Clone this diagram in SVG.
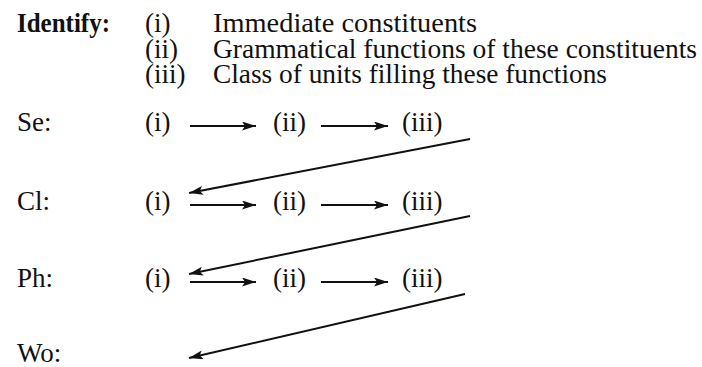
<svg xmlns="http://www.w3.org/2000/svg" width="702" height="367" viewBox="0 0 702 367">
<style>
text { font-family: "Liberation Serif", "Times New Roman", serif; font-size: 27px; fill: #111; }
.b { font-weight: bold; }
.ln { stroke: #111; stroke-width: 2; fill: none; }
.h { stroke-width: 1.8; }
</style>
<defs>
<marker id="ah" markerUnits="userSpaceOnUse" markerWidth="16" markerHeight="10" refX="14" refY="4.5" orient="auto">
<path d="M0,0 L14,4.5 L0,9 L3,4.5 z" fill="#111"/>
</marker>
</defs>
<rect width="702" height="367" fill="#fff"/>
<g id="header">
<text class="b" x="17" y="32" textLength="93" lengthAdjust="spacingAndGlyphs">Identify:</text>
<text x="145" y="32">(i)</text>
<text x="145" y="57.5">(ii)</text>
<text x="145" y="83">(iii)</text>
<text x="213" y="32" textLength="264" lengthAdjust="spacingAndGlyphs">Immediate constituents</text>
<text x="213" y="57.5" textLength="484" lengthAdjust="spacingAndGlyphs">Grammatical functions of these constituents</text>
<text x="213" y="83" textLength="394" lengthAdjust="spacingAndGlyphs">Class of units filling these functions</text>
</g>
<g id="Se">
<text x="17" y="131">Se:</text>
<text x="145" y="131">(i)</text>
<text x="273" y="131">(ii)</text>
<text x="402" y="131">(iii)</text>
</g>
<g id="Cl">
<text x="17" y="210">Cl:</text>
<text x="145" y="210">(i)</text>
<text x="273" y="210">(ii)</text>
<text x="402" y="210">(iii)</text>
</g>
<g id="Ph">
<text x="17" y="287">Ph:</text>
<text x="145" y="287">(i)</text>
<text x="273" y="287">(ii)</text>
<text x="402" y="287">(iii)</text>
</g>
<g id="Wo">
<text x="17" y="362">Wo:</text>
</g>
<g id="connectors">
<line class="ln h" x1="190" y1="126" x2="256" y2="126" marker-end="url(#ah)"/>
<line class="ln h" x1="321" y1="126" x2="388" y2="126" marker-end="url(#ah)"/>
<line class="ln h" x1="190" y1="205" x2="256" y2="205" marker-end="url(#ah)"/>
<line class="ln h" x1="321" y1="205" x2="388" y2="205" marker-end="url(#ah)"/>
<line class="ln h" x1="190" y1="282" x2="256" y2="282" marker-end="url(#ah)"/>
<line class="ln h" x1="321" y1="282" x2="388" y2="282" marker-end="url(#ah)"/>
<line class="ln" x1="470" y1="139" x2="189" y2="193" marker-end="url(#ah)"/>
<line class="ln" x1="470" y1="216" x2="189" y2="274" marker-end="url(#ah)"/>
<line class="ln" x1="465" y1="294" x2="189" y2="358" marker-end="url(#ah)"/>
</g>
</svg>
